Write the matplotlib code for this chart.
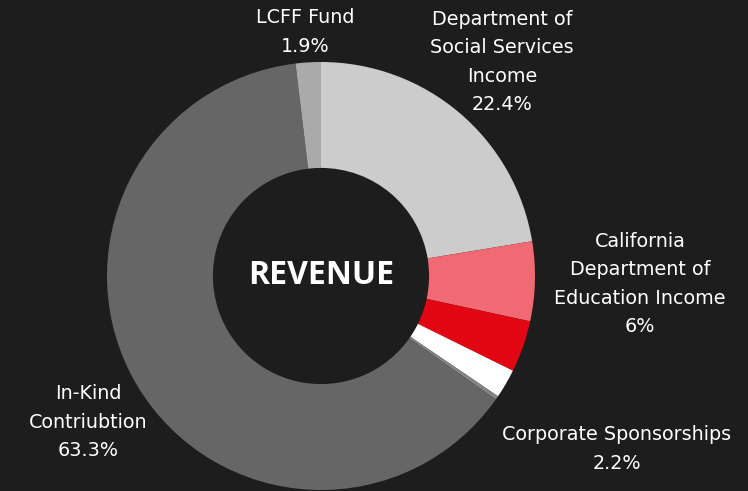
import matplotlib.pyplot as plt

# revenue shares (percent), clockwise from the top
labels = ['Department of\nSocial Services\nIncome', 'California\nDepartment of\nEducation Income',
          'Other', 'Corporate Sponsorships', 'Misc', 'In-Kind\nContriubtion', 'LCFF Fund']
values = [22.4, 6.0, 3.9, 2.2, 0.3, 63.3, 1.9]
colors = ['#cccccc', '#f06a73', '#e20613', '#ffffff', '#858585', '#666666', '#aaaaaa']

# which slices get a label, and where (pixel centre of the text block)
label_text = ['Department of\nSocial Services\nIncome\n22.4%',
              'California\nDepartment of\nEducation Income\n6%',
              'Corporate Sponsorships\n2.2%',
              'In-Kind\nContriubtion\n63.3%',
              'LCFF Fund\n1.9%']
label_pos = [(502, 62), (640, 284), (617, 449), (88, 422), (305, 32)]

bg = '#1d1d1d'
W, H = 748, 491
fig = plt.figure(figsize=(W / 100, H / 100), dpi=100, facecolor=bg)

cx, cy, r = 321, 276, 214
ax = fig.add_axes([(cx - r) / W, (H - cy - r) / H, 2 * r / W, 2 * r / H])
ax.set_facecolor(bg)
ax.pie(values, colors=colors, startangle=90, counterclock=False, radius=1,
       wedgeprops=dict(width=0.495, edgecolor='none'))
ax.set_xlim(-1, 1)
ax.set_ylim(-1, 1)
ax.set_aspect('equal')
ax.axis('off')

ax.text(0, 0, 'REVENUE', ha='center', va='center', color='white',
        fontsize=23, fontweight='bold', family='Open Sans')

for txt, (x, y) in zip(label_text, label_pos):
    fig.text(x / W, 1 - y / H, txt, ha='center', va='center', color='white',
             fontsize=13.8, family='DejaVu Sans', linespacing=1.62)

plt.savefig('out.png', dpi=100, facecolor=bg)
